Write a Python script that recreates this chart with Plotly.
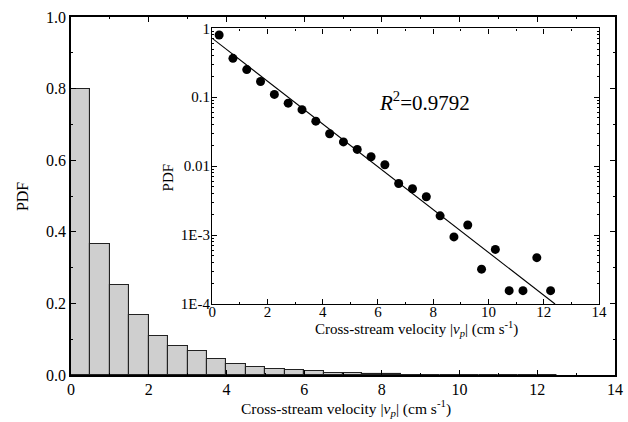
import plotly.graph_objects as go

# ---- data ----
bin_centers = [0.25, 0.75, 1.25, 1.75, 2.25, 2.75, 3.25, 3.75, 4.25, 4.75,
               5.25, 5.75, 6.25, 6.75, 7.25, 7.75, 8.25, 8.75, 9.25, 9.75,
               10.25, 10.75, 11.25, 11.75, 12.25]
pdf_values = [0.80, 0.367, 0.252, 0.169, 0.110, 0.082, 0.066, 0.045, 0.0295, 0.0225,
              0.0175, 0.0137, 0.0105, 0.0056, 0.0047, 0.0036, 0.0019, 0.00094, 0.0014, 0.00032,
              0.00062, 0.000156, 0.000156, 0.00047, 0.000156]
fit_x = [0.0, 12.41]
fit_y = [0.716, 0.0001]
main_yticks = [0.0, 0.2, 0.4, 0.6, 0.8, 1.0]
main_yticklabels = ["0.0", "0.2", "0.4", "0.6", "0.8", "1.0"]
inset_yticks = [1, 0.1, 0.01, 0.001, 0.0001]
inset_yticklabels = ["1", "0.1", "0.01", "1E-3", "1E-4"]
r2_text = "<i>R</i><sup>2</sup>=0.9792"
x_title = "Cross-stream velocity |<i>v</i><sub><i>p</i></sub>| (cm s<sup>-1</sup>)"
y_title = "PDF"

FONT = "Liberation Serif, Times New Roman, serif"

fig = go.Figure()

fig.add_trace(go.Bar(
    x=bin_centers, y=pdf_values, width=0.5,
    marker=dict(color="#cfcfcf", line=dict(color="#222222", width=1.1)),
    xaxis="x", yaxis="y", showlegend=False,
))

fig.add_trace(go.Scatter(
    x=bin_centers, y=pdf_values, mode="markers",
    marker=dict(color="black", size=9),
    xaxis="x2", yaxis="y2", showlegend=False, cliponaxis=False,
))
fig.add_trace(go.Scatter(
    x=fit_x, y=fit_y, mode="lines",
    line=dict(color="black", width=1.1),
    xaxis="x2", yaxis="y2", showlegend=False,
))

minor_log = [m * 10 ** e for e in range(-4, 0) for m in range(2, 10)]

axis_common = dict(showline=True, linecolor="black", mirror="allticks",
                   ticks="inside", tickcolor="black", showgrid=False, zeroline=False)

main_tf = dict(family=FONT, size=16, color="black")
inset_tf = dict(family=FONT, size=15, color="black")

fig.update_layout(
    width=628, height=422,
    margin=dict(l=71, r=5, t=17, b=47),
    paper_bgcolor="white", plot_bgcolor="white",
    font=dict(family=FONT, color="black"),
    bargap=0,
    xaxis=dict(domain=[0, 1], range=[0, 14], dtick=2, tick0=0, ticklen=5, linewidth=1.6,
               minor=dict(dtick=1, ticks="inside", ticklen=2, tickcolor="black"),
               anchor="y", tickfont=main_tf, ticklabelstandoff=-1, **axis_common),
    yaxis=dict(domain=[0, 1], range=[0, 1], tickvals=main_yticks, ticktext=main_yticklabels,
               ticklen=5, linewidth=1.6,
               minor=dict(dtick=0.1, ticks="inside", ticklen=2, tickcolor="black"),
               anchor="x", tickfont=main_tf, **axis_common),
    xaxis2=dict(domain=[0.2596, 0.9705], range=[0, 14], dtick=2, tick0=0, ticklen=5,
                linewidth=1.4,
                minor=dict(dtick=1, ticks="inside", ticklen=2, tickcolor="black"),
                anchor="y2", tickfont=inset_tf, ticklabelstandoff=-6, **axis_common),
    yaxis2=dict(domain=[0.1983, 0.9684], type="log", range=[-4, 0],
                tickvals=inset_yticks, ticktext=inset_yticklabels, ticklen=5, linewidth=1.4,
                minor=dict(tickvals=minor_log, ticks="inside", ticklen=2, tickcolor="black"),
                anchor="x2", tickfont=inset_tf, ticklabelstandoff=-2, **axis_common),
)

fig.add_annotation(text=y_title, x=-0.09, y=0.497, xref="paper", yref="paper",
                   xanchor="center", yanchor="middle",
                   textangle=-90, showarrow=False, font=main_tf)
fig.add_annotation(text=y_title, x=0.179, y=0.553, xref="paper", yref="paper",
                   xanchor="center", yanchor="middle",
                   textangle=-90, showarrow=False, font=inset_tf)
fig.add_annotation(text=x_title, x=0.5054, y=-0.092, xref="paper", yref="paper",
                   xanchor="center", yanchor="middle",
                   showarrow=False, font=dict(family=FONT, size=15.5, color="black"))
fig.add_annotation(text=x_title, x=0.636, y=0.128, xref="paper", yref="paper",
                   xanchor="center", yanchor="middle",
                   showarrow=False, font=inset_tf)
fig.add_annotation(text=r2_text, x=0.563, y=0.7626, xref="paper", yref="paper",
                   xanchor="left", yanchor="middle", showarrow=False,
                   font=dict(family=FONT, size=21, color="black"))

fig.write_html("out.html")
